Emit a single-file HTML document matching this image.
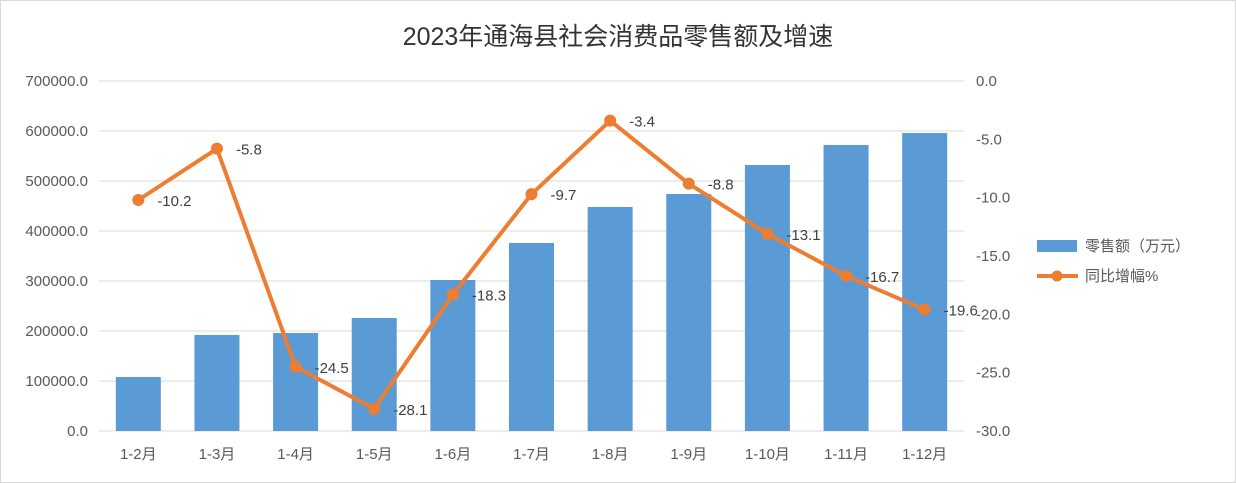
<!DOCTYPE html>
<html><head><meta charset="utf-8"><style>
body{margin:0;background:#fff;}
svg{display:block;font-family:"Liberation Sans","Noto Sans CJK SC",sans-serif;}
</style></head><body>
<svg id="c" width="1236" height="483">
<rect x="0.5" y="0.5" width="1235" height="482" fill="#fff" stroke="#d9d9d9"/>
<text x="618" y="45" text-anchor="middle" font-size="25" fill="#333">2023年通海县社会消费品零售额及增速</text>
<g id="grid"></g><g id="bars"></g><g id="line"></g><g id="axes"></g>
<g>
<rect x="1037" y="240" width="40" height="12" fill="#5b9bd5"/>
<text x="1085" y="251" font-size="15" fill="#595959">零售额（万元）</text>
<line x1="1037" y1="276" x2="1078" y2="276" stroke="#ed7d31" stroke-width="4"/>
<circle cx="1057" cy="276" r="5.5" fill="#ed7d31"/>
<text x="1085" y="281" font-size="15" fill="#595959">同比增幅%</text>
</g>
</svg>
<script>
const categories=["1-2月","1-3月","1-4月","1-5月","1-6月","1-7月","1-8月","1-9月","1-10月","1-11月","1-12月"];
const sales=[108000,192000,196000,226000,302000,376000,448000,474000,532000,572000,596000];
const growth=[-10.2,-5.8,-24.5,-28.1,-18.3,-9.7,-3.4,-8.8,-13.1,-16.7,-19.6];
const leftTicks=[0,100000,200000,300000,400000,500000,600000,700000];
const rightTicks=[0,-5,-10,-15,-20,-25,-30];
const NS="http://www.w3.org/2000/svg";
const X0=99,X1=964,YT=81,YB=431;
const bw=(X1-X0)/categories.length;
const xc=i=>X0+bw*(i+0.5);
const yL=v=>YB-(v/700000)*(YB-YT);
const yR=v=>YT+(-v/30)*(YB-YT);
function mk(t,a,p){const e=document.createElementNS(NS,t);for(const k in a)e.setAttribute(k,a[k]);p.appendChild(e);return e;}
const grid=document.getElementById('grid'),bars=document.getElementById('bars'),line=document.getElementById('line'),axes=document.getElementById('axes');
leftTicks.forEach(v=>{
 const g=mk('line',{x1:X0,x2:X1,y1:yL(v),y2:yL(v),stroke:'#d9d9d9'},grid);
 
 
 const t=mk('text',{x:88,y:yL(v)+5,'text-anchor':'end','font-size':15,fill:'#595959'},axes);
 t.textContent=v.toFixed(1);
 
 
});
rightTicks.forEach(v=>{
 const t=mk('text',{x:976,y:yR(v)+5,'font-size':15,fill:'#595959'},axes);
 t.textContent=v.toFixed(1);
 
 
});
categories.forEach((c,i)=>{
 const b=mk('rect',{x:xc(i)-22.5,y:yL(sales[i]),width:45,height:YB-yL(sales[i]),fill:'#5b9bd5'},bars);
 
 
 const t=mk('text',{x:xc(i),y:459,'text-anchor':'middle','font-size':15,fill:'#595959'},axes);
 t.textContent=c;
 
 
});
const pl=mk('polyline',{points:growth.map((v,i)=>xc(i)+','+yR(v)).join(' '),fill:'none',stroke:'#ed7d31','stroke-width':4,'stroke-linejoin':'round'},line);


growth.forEach((v,i)=>{
 const p=mk('circle',{cx:xc(i),cy:yR(v),r:6,fill:'#ed7d31'},line);
 
 
 const t=mk('text',{x:xc(i)+19,y:yR(v)+6,'font-size':15,fill:'#404040'},line);
 t.textContent=v.toFixed(1);
 
 
});
</script>
</body></html>
